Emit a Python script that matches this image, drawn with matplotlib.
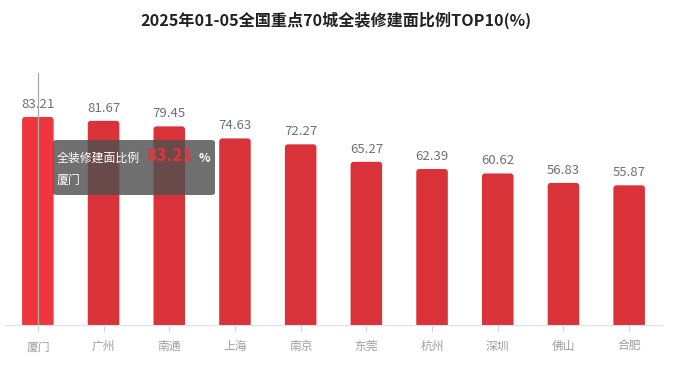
import matplotlib
matplotlib.use("Agg")
import matplotlib.pyplot as plt
from matplotlib.patches import FancyBboxPatch

plt.rcParams['font.family'] = ['Noto Sans CJK SC', 'DejaVu Sans']

cities = ["厦门", "广州", "南通", "上海", "南京", "东莞", "杭州", "深圳", "佛山", "合肥"]
values = [83.21, 81.67, 79.45, 74.63, 72.27, 65.27, 62.39, 60.62, 56.83, 55.87]
title = "2025年01-05全国重点70城全装修建面比例TOP10(%)"
series_name = "全装修建面比例"
highlight = 0

W, H = 677, 370
fig = plt.figure(figsize=(W/100, H/100), dpi=100)
AX_W, AX_H = 657, 250
ax = fig.add_axes([5/W, (H-325)/H, AX_W/W, AX_H/H])

n = len(cities)
ax.set_xlim(-0.5, n-0.5)
ax.set_ylim(0, 100)
bw = 0.48
x_per_px = n / AX_W
y_per_px = 100 / AX_H
for i, v in enumerate(values):
    c = "#f0353d" if i == highlight else "#d93238"
    p = FancyBboxPatch((i - bw/2, -5), bw, v + 5,
                       boxstyle=f"round,pad=0,rounding_size={3*x_per_px}",
                       mutation_aspect=y_per_px / x_per_px,
                       facecolor=c, edgecolor='none', zorder=2)
    ax.add_patch(p)
    ax.text(i, v + 2.4, f"{v:.2f}", ha='center', va='bottom', fontsize=9.5, color='#6e7079')

ax.set_xticks(list(range(n)))
ax.set_xticklabels(cities, fontsize=8.5, color='#a0a0a0')
ax.tick_params(axis='x', length=5, color='#d8d8d8', pad=6)
ax.set_yticks([])
for s in ['top', 'right', 'left']:
    ax.spines[s].set_visible(False)
ax.spines['bottom'].set_color('#e0e0e6')
ax.spines['bottom'].set_zorder(4)

# axis pointer line
ax.plot([highlight, highlight], [0, 100.8], color='#aaaaaa', lw=0.9, zorder=3, clip_on=False)

fig.text(336/W, 1-20/H, title, ha='center', va='center', fontsize=11.6, fontweight='bold', color='#222222')

# tooltip
box = FancyBboxPatch((53/W, 1-195/H), 162/W, 55/H, boxstyle="round,pad=0,rounding_size=0.006",
                     transform=fig.transFigure, facecolor='#505050', alpha=0.82, edgecolor='none', zorder=5)
fig.patches.append(box)
fig.text(57/W, 1-158/H, series_name, ha='left', va='center', fontsize=8.6, color='white', fontweight='medium', zorder=6)
fig.text(146/W, 1-156/H, f"{values[highlight]:.2f}", ha='left', va='center', fontsize=12.5, color='#e8333a', fontweight='bold', zorder=6)
fig.text(199/W, 1-158/H, "%", ha='left', va='center', fontsize=8.6, color='white', fontweight='bold', zorder=6)
fig.text(57/W, 1-180/H, cities[highlight], ha='left', va='center', fontsize=8.6, color='white', fontweight='medium', zorder=6)

fig.savefig("out.png", dpi=100)
